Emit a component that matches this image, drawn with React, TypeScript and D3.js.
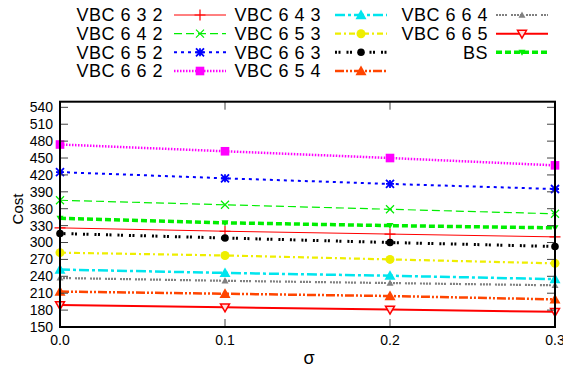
import React from "react";
import * as d3 from "d3";

const sigmas = [0, 0.1, 0.2, 0.3];
const xTicks = [0, 0.1, 0.2, 0.3];
const yTicks = [150, 180, 210, 240, 270, 300, 330, 360, 390, 420, 450, 480, 510, 540];

const vbc632 = [326, 320, 315, 310];
const vbc642 = [375, 367, 359, 351];
const vbc652 = [425, 414, 404, 395];
const vbc662 = [474, 462, 450, 437];
const vbc643 = [252, 246, 241, 235];
const vbc653 = [282, 277, 270, 263];
const vbc663 = [316, 308, 300, 293];
const vbc654 = [213, 209, 205, 199];
const vbc664 = [237, 232, 228, 224];
const vbc665 = [189, 185, 181, 177];
const bs = [343, 335, 330, 326];

type Marker = "plus" | "cross" | "star" | "square" | "tri" | "circle" | "dot" | "triDownOpen" | "triDown" | "triSmall";

interface Series {
  name: string;
  values: number[];
  color: string;
  width: number;
  dash: string;
  marker: Marker;
  size: number;
}

const series: Series[] = [
  { name: "VBC 6 3 2", values: vbc632, color: "#ff0000", width: 1, dash: "", marker: "plus", size: 5.5 },
  { name: "VBC 6 4 2", values: vbc642, color: "#00ee00", width: 1.2, dash: "8,4", marker: "cross", size: 4 },
  { name: "VBC 6 5 2", values: vbc652, color: "#0000ff", width: 2, dash: "3,4", marker: "star", size: 4 },
  { name: "VBC 6 6 2", values: vbc662, color: "#ff00ff", width: 2.5, dash: "1.5,1.5", marker: "square", size: 4.3 },
  { name: "VBC 6 4 3", values: vbc643, color: "#00e5ee", width: 2.5, dash: "10,3,3,3", marker: "tri", size: 5.5 },
  { name: "VBC 6 5 3", values: vbc653, color: "#eeee00", width: 2.2, dash: "6,3,2,3", marker: "circle", size: 4.5 },
  { name: "VBC 6 6 3", values: vbc663, color: "#000000", width: 3, dash: "2,1.5,2,6", marker: "dot", size: 3.8 },
  { name: "VBC 6 5 4", values: vbc654, color: "#ff4500", width: 2.5, dash: "9,2,2,2,2,2", marker: "tri", size: 5.5 },
  { name: "VBC 6 6 4", values: vbc664, color: "#808080", width: 2.2, dash: "2,1,2,1,2,1,2,4", marker: "triSmall", size: 3.5 },
  { name: "VBC 6 6 5", values: vbc665, color: "#ff0000", width: 2, dash: "", marker: "triDownOpen", size: 4.5 },
  { name: "BS", values: bs, color: "#00ee00", width: 3.5, dash: "6,3", marker: "triDown", size: 3.5 },
];

// legend placement: [column, row]
const legendCols = [
  { textEnd: 163, lineStart: 174, lineEnd: 226 },
  { textEnd: 321, lineStart: 335, lineEnd: 387 },
  { textEnd: 488, lineStart: 496, lineEnd: 548 },
];
const legendRows = [15, 33.7, 52.3, 71];
const legendPos: [number, number][] = [
  [0, 0], [0, 1], [0, 2], [0, 3],
  [1, 0], [1, 1], [1, 2], [1, 3],
  [2, 0], [2, 1], [2, 2],
];

const LEFT = 60, RIGHT = 555, TOP = 101.7, BOTTOM = 327;

function MarkerShape({ m, x, y, color, s }: { m: Marker; x: number; y: number; color: string; s: number }) {
  switch (m) {
    case "plus":
      return <path d={`M${x - s},${y}H${x + s}M${x},${y - s}V${y + s}`} stroke={color} strokeWidth={1.2} />;
    case "cross":
      return <path d={`M${x - s},${y - s}L${x + s},${y + s}M${x - s},${y + s}L${x + s},${y - s}`} stroke={color} strokeWidth={1.2} />;
    case "star":
      return (
        <path
          d={`M${x - s},${y - s}L${x + s},${y + s}M${x - s},${y + s}L${x + s},${y - s}M${x - s},${y}H${x + s}M${x},${y - s}V${y + s}`}
          stroke={color}
          strokeWidth={1.8}
        />
      );
    case "square":
      return <rect x={x - s} y={y - s} width={2 * s} height={2 * s} fill={color} />;
    case "tri":
    case "triSmall":
      return <path d={`M${x},${y - s}L${x + s},${y + s * 0.75}L${x - s},${y + s * 0.75}Z`} fill={color} />;
    case "circle":
    case "dot":
      return <circle cx={x} cy={y} r={s} fill={color} />;
    case "triDownOpen":
      return (
        <path
          d={`M${x},${y + s}L${x + s},${y - s * 0.75}L${x - s},${y - s * 0.75}Z`}
          fill="#ffdddd"
          stroke={color}
          strokeWidth={1.5}
        />
      );
    case "triDown":
      return <path d={`M${x},${y + s}L${x + s},${y - s * 0.75}L${x - s},${y - s * 0.75}Z`} fill={color} />;
  }
  return null;
}

export default function App() {
  const x = d3.scaleLinear().domain([0, 0.3]).range([LEFT, RIGHT]);
  const y = d3.scaleLinear().domain([150, 550]).range([BOTTOM, TOP]);
  const line = d3
    .line<number>()
    .x((_, i) => x(sigmas[i]))
    .y((d) => y(d));
  const font = "'Liberation Sans', Arial, Helvetica, sans-serif";

  return (
    <svg
      width={563}
      height={370}
      style={{ position: "absolute", left: 0, top: 0, background: "#fff" }}
      fontFamily={font}
    >
      {series.map((s) => (
        <g key={s.name}>
          <path d={line(s.values) || ""} fill="none" stroke={s.color} strokeWidth={s.width} strokeDasharray={s.dash || undefined} />
          {s.values.map((v, i) => (
            <MarkerShape key={i} m={s.marker} x={x(sigmas[i])} y={y(v)} color={s.color} s={s.size} />
          ))}
        </g>
      ))}

      {yTicks.map((t) => (
        <g key={"y" + t}>
          <line x1={LEFT} x2={LEFT + 8} y1={y(t)} y2={y(t)} stroke="#444" strokeWidth={1} />
          <line x1={RIGHT} x2={RIGHT - 8} y1={y(t)} y2={y(t)} stroke="#444" strokeWidth={1} />
          <text x={53} y={y(t)} dy="0.35em" textAnchor="end" fontSize={14} fill="#000">
            {t}
          </text>
        </g>
      ))}
      {xTicks.map((t) => (
        <g key={"x" + t}>
          <line x1={x(t)} x2={x(t)} y1={BOTTOM} y2={BOTTOM - 8} stroke="#444" strokeWidth={1} />
          <line x1={x(t)} x2={x(t)} y1={TOP} y2={TOP + 8} stroke="#444" strokeWidth={1} />
          <text x={x(t)} y={345} textAnchor="middle" fontSize={14} fill="#000">
            {d3.format(".1f")(t)}
          </text>
        </g>
      ))}

      <rect x={LEFT} y={TOP} width={RIGHT - LEFT} height={BOTTOM - TOP} fill="none" stroke="#000" strokeWidth={2} />

      <text transform={`translate(23,209) rotate(-90)`} textAnchor="middle" fontSize={15} fill="#000">
        Cost
      </text>
      <text x={309} y={364} textAnchor="middle" fontSize={18} fill="#000">
        σ
      </text>

      {series.map((s, i) => {
        const [c, r] = legendPos[i];
        const col = legendCols[c];
        const ly = legendRows[r];
        const mx = (col.lineStart + col.lineEnd) / 2;
        return (
          <g key={"leg" + s.name}>
            <text x={col.textEnd} y={ly} dy="0.35em" textAnchor="end" fontSize={18} letterSpacing={0.5} fill="#000">
              {s.name}
            </text>
            <line
              x1={col.lineStart}
              x2={col.lineEnd}
              y1={ly}
              y2={ly}
              stroke={s.color}
              strokeWidth={s.width}
              strokeDasharray={s.dash || undefined}
            />
            <MarkerShape m={s.marker} x={mx} y={ly} color={s.color} s={s.size} />
          </g>
        );
      })}
    </svg>
  );
}
